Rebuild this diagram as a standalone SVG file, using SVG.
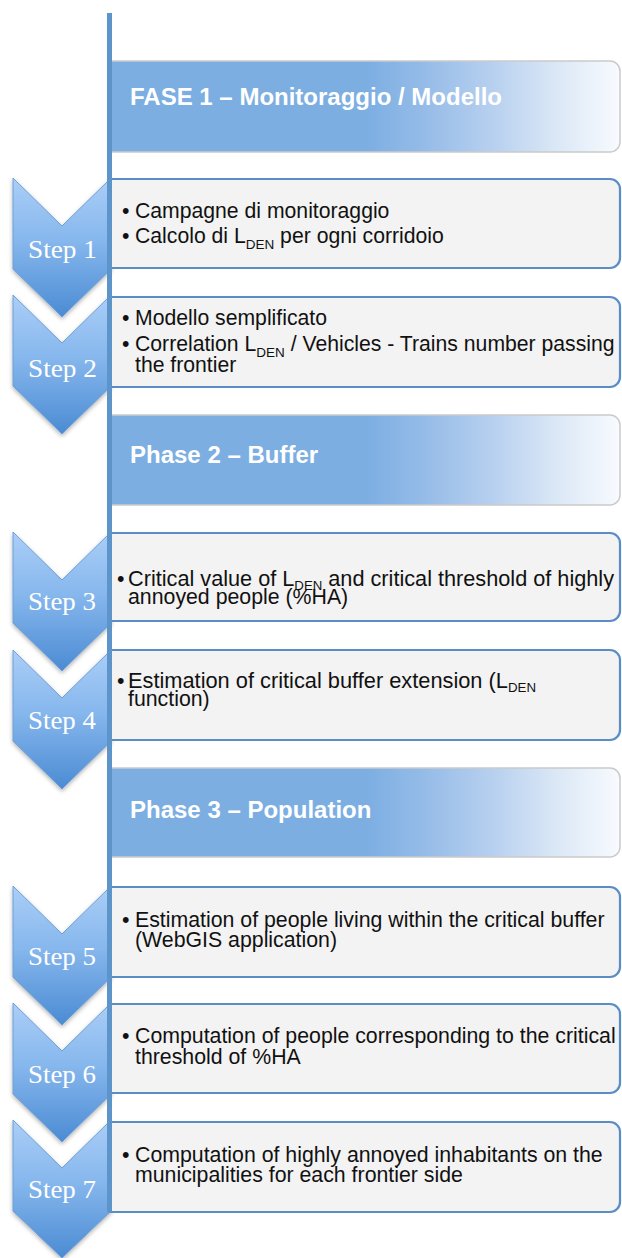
<svg xmlns="http://www.w3.org/2000/svg" width="622" height="1258" viewBox="0 0 622 1258">
  <defs>
    <linearGradient id="phaseFill" x1="110" y1="0" x2="620" y2="0" gradientUnits="userSpaceOnUse">
      <stop offset="0" stop-color="#7caee2"/>
      <stop offset="0.5" stop-color="#7caee2"/>
      <stop offset="0.62" stop-color="#96bce8"/>
      <stop offset="0.75" stop-color="#b7d0ef"/>
      <stop offset="0.88" stop-color="#dce8f6"/>
      <stop offset="1" stop-color="#f8fbff"/>
    </linearGradient>
    <linearGradient id="chevronFill" x1="0" y1="0" x2="0" y2="1">
      <stop offset="0" stop-color="#abcef7"/>
      <stop offset="0.45" stop-color="#86b7ed"/>
      <stop offset="1" stop-color="#4b8bd3"/>
    </linearGradient>
    <filter id="softShadow" x="-20%" y="-10%" width="140%" height="130%">
      <feDropShadow dx="0" dy="2" stdDeviation="2" flood-color="#000" flood-opacity="0.3"/>
    </filter>
    <style>
      .phase { fill: url(#phaseFill); stroke: #cacaca; stroke-width: 1.5; }
      .phase-text { font-family: "Liberation Sans", Arial, sans-serif; font-weight: bold; font-size: 24px; fill: #ffffff; }
      .chevron { fill: url(#chevronFill); stroke: #6d9fd6; stroke-width: 1; filter: url(#softShadow); }
      .step-label { font-family: "Liberation Serif", "Times New Roman", serif; font-size: 26px; fill: #ffffff; }
      .box { fill: #f3f3f3; stroke: #5a8dc6; stroke-width: 2.2; }
      .body { font-family: "Liberation Sans", Arial, sans-serif; font-size: 21.2px; fill: #111111; }
      .body-lo { font-family: "Liberation Sans", Arial, sans-serif; font-size: 21.3px; fill: #111111; }
      .spine { fill: #5d94ca; }
    </style>
  </defs>

  <rect width="622" height="1258" fill="#ffffff"/>

  <!-- Phase 1 header -->
  <g id="phase-1">
    <path class="phase" d="M110,61 H610 A10,10 0 0 1 620,71 V142 A10,10 0 0 1 610,152 H110 Z"/>
    <text class="phase-text" x="130" y="105">FASE 1 – Monitoraggio / Modello</text>
  </g>

  <!-- Step 1 -->
  <g id="step-1">
    <path class="chevron" d="M13,178 L62,226 L111,178 V269 L62,317 L13,269 Z"/>
    <path class="box" d="M110,179 H610 A10,10 0 0 1 620,189 V258 A10,10 0 0 1 610,268 H110 Z"/>
    <text class="step-label" x="28" y="258" textLength="69" lengthAdjust="spacingAndGlyphs">Step 1</text>
    <text class="body" x="122" y="218">•</text>
    <text class="body" x="135" y="218">Campagne di monitoraggio</text>
    <text class="body" x="122" y="243">•</text>
    <text class="body" x="135" y="243">Calcolo di L<tspan font-size="13.5" dy="6">DEN</tspan><tspan dy="-6"> per ogni corridoio</tspan></text>
  </g>

  <!-- Step 2 -->
  <g id="step-2">
    <path class="chevron" d="M13,295 L62,343 L111,295 V386 L62,434 L13,386 Z"/>
    <path class="box" d="M110,297 H610 A10,10 0 0 1 620,307 V377 A10,10 0 0 1 610,387 H110 Z"/>
    <text class="step-label" x="28" y="377" textLength="69" lengthAdjust="spacingAndGlyphs">Step 2</text>
    <text class="body" x="122" y="325">•</text>
    <text class="body" x="135" y="325">Modello semplificato</text>
    <text class="body" x="122" y="351">•</text>
    <text class="body" x="135" y="351">Correlation L<tspan font-size="13.5" dy="6">DEN</tspan><tspan dy="-6"> / Vehicles - Trains number passing</tspan></text>
    <text class="body" x="135" y="372">the frontier</text>
  </g>

  <!-- Phase 2 header -->
  <g id="phase-2">
    <path class="phase" d="M110,415 H610 A10,10 0 0 1 620,425 V495 A10,10 0 0 1 610,505 H110 Z"/>
    <text class="phase-text" x="130" y="463">Phase 2 – Buffer</text>
  </g>

  <!-- Step 3 -->
  <g id="step-3">
    <path class="chevron" d="M13,532 L62,580 L111,532 V623 L62,671 L13,623 Z"/>
    <path class="box" d="M110,533 H610 A10,10 0 0 1 620,543 V611 A10,10 0 0 1 610,621 H110 Z"/>
    <text class="step-label" x="28" y="610" textLength="68" lengthAdjust="spacingAndGlyphs">Step 3</text>
    <text class="body-lo" x="117" y="586">•</text>
    <text class="body-lo" x="128" y="586" textLength="486" lengthAdjust="spacingAndGlyphs">Critical value of L<tspan font-size="13" dy="4">DEN</tspan><tspan dy="-4"> and critical threshold of highly</tspan></text>
    <text class="body-lo" x="128" y="604">annoyed people (%HA)</text>
  </g>

  <!-- Step 4 -->
  <g id="step-4">
    <path class="chevron" d="M13,650 L62,698 L111,650 V741 L62,789 L13,741 Z"/>
    <path class="box" d="M110,650 H610 A10,10 0 0 1 620,660 V730 A10,10 0 0 1 610,740 H110 Z"/>
    <text class="step-label" x="28" y="729" textLength="68" lengthAdjust="spacingAndGlyphs">Step 4</text>
    <text class="body-lo" x="117" y="688">•</text>
    <text class="body-lo" x="128" y="688" textLength="408" lengthAdjust="spacingAndGlyphs">Estimation of critical buffer extension (L<tspan font-size="13" dy="4">DEN</tspan></text>
    <text class="body-lo" x="128" y="706">function)</text>
  </g>

  <!-- Phase 3 header -->
  <g id="phase-3">
    <path class="phase" d="M110,768 H610 A10,10 0 0 1 620,778 V847 A10,10 0 0 1 610,857 H110 Z"/>
    <text class="phase-text" x="130" y="818">Phase 3 – Population</text>
  </g>

  <!-- Step 5 -->
  <g id="step-5">
    <path class="chevron" d="M13,886 L62,934 L111,886 V977 L62,1025 L13,977 Z"/>
    <path class="box" d="M110,887 H610 A10,10 0 0 1 620,897 V967 A10,10 0 0 1 610,977 H110 Z"/>
    <text class="step-label" x="28" y="965" textLength="68" lengthAdjust="spacingAndGlyphs">Step 5</text>
    <text class="body-lo" x="122" y="927">•</text>
    <text class="body-lo" x="135" y="927">Estimation of people living within the critical buffer</text>
    <text class="body-lo" x="135" y="947">(WebGIS application)</text>
  </g>

  <!-- Step 6 -->
  <g id="step-6">
    <path class="chevron" d="M13,1003 L62,1051 L111,1003 V1094 L62,1142 L13,1094 Z"/>
    <path class="box" d="M110,1004 H610 A10,10 0 0 1 620,1014 V1083 A10,10 0 0 1 610,1093 H110 Z"/>
    <text class="step-label" x="28" y="1083" textLength="68" lengthAdjust="spacingAndGlyphs">Step 6</text>
    <text class="body-lo" x="122" y="1043">•</text>
    <text class="body-lo" x="135" y="1043">Computation of people corresponding to the critical</text>
    <text class="body-lo" x="135" y="1064">threshold of %HA</text>
  </g>

  <!-- Step 7 -->
  <g id="step-7">
    <path class="chevron" d="M13,1120 L62,1168 L111,1120 V1211 L62,1258 L13,1211 Z"/>
    <path class="box" d="M110,1122 H610 A10,10 0 0 1 620,1132 V1202 A10,10 0 0 1 610,1212 H110 Z"/>
    <text class="step-label" x="28" y="1198" textLength="68" lengthAdjust="spacingAndGlyphs">Step 7</text>
    <text class="body-lo" x="122" y="1162">•</text>
    <text class="body-lo" x="135" y="1162">Computation of highly annoyed inhabitants on the</text>
    <text class="body-lo" x="135" y="1182">municipalities for each frontier side</text>
  </g>

  <!-- Vertical spine linking the phases and steps -->
  <g id="connectors">
    <rect class="spine" x="107" y="13" width="5" height="1199"/>
  </g>
</svg>
